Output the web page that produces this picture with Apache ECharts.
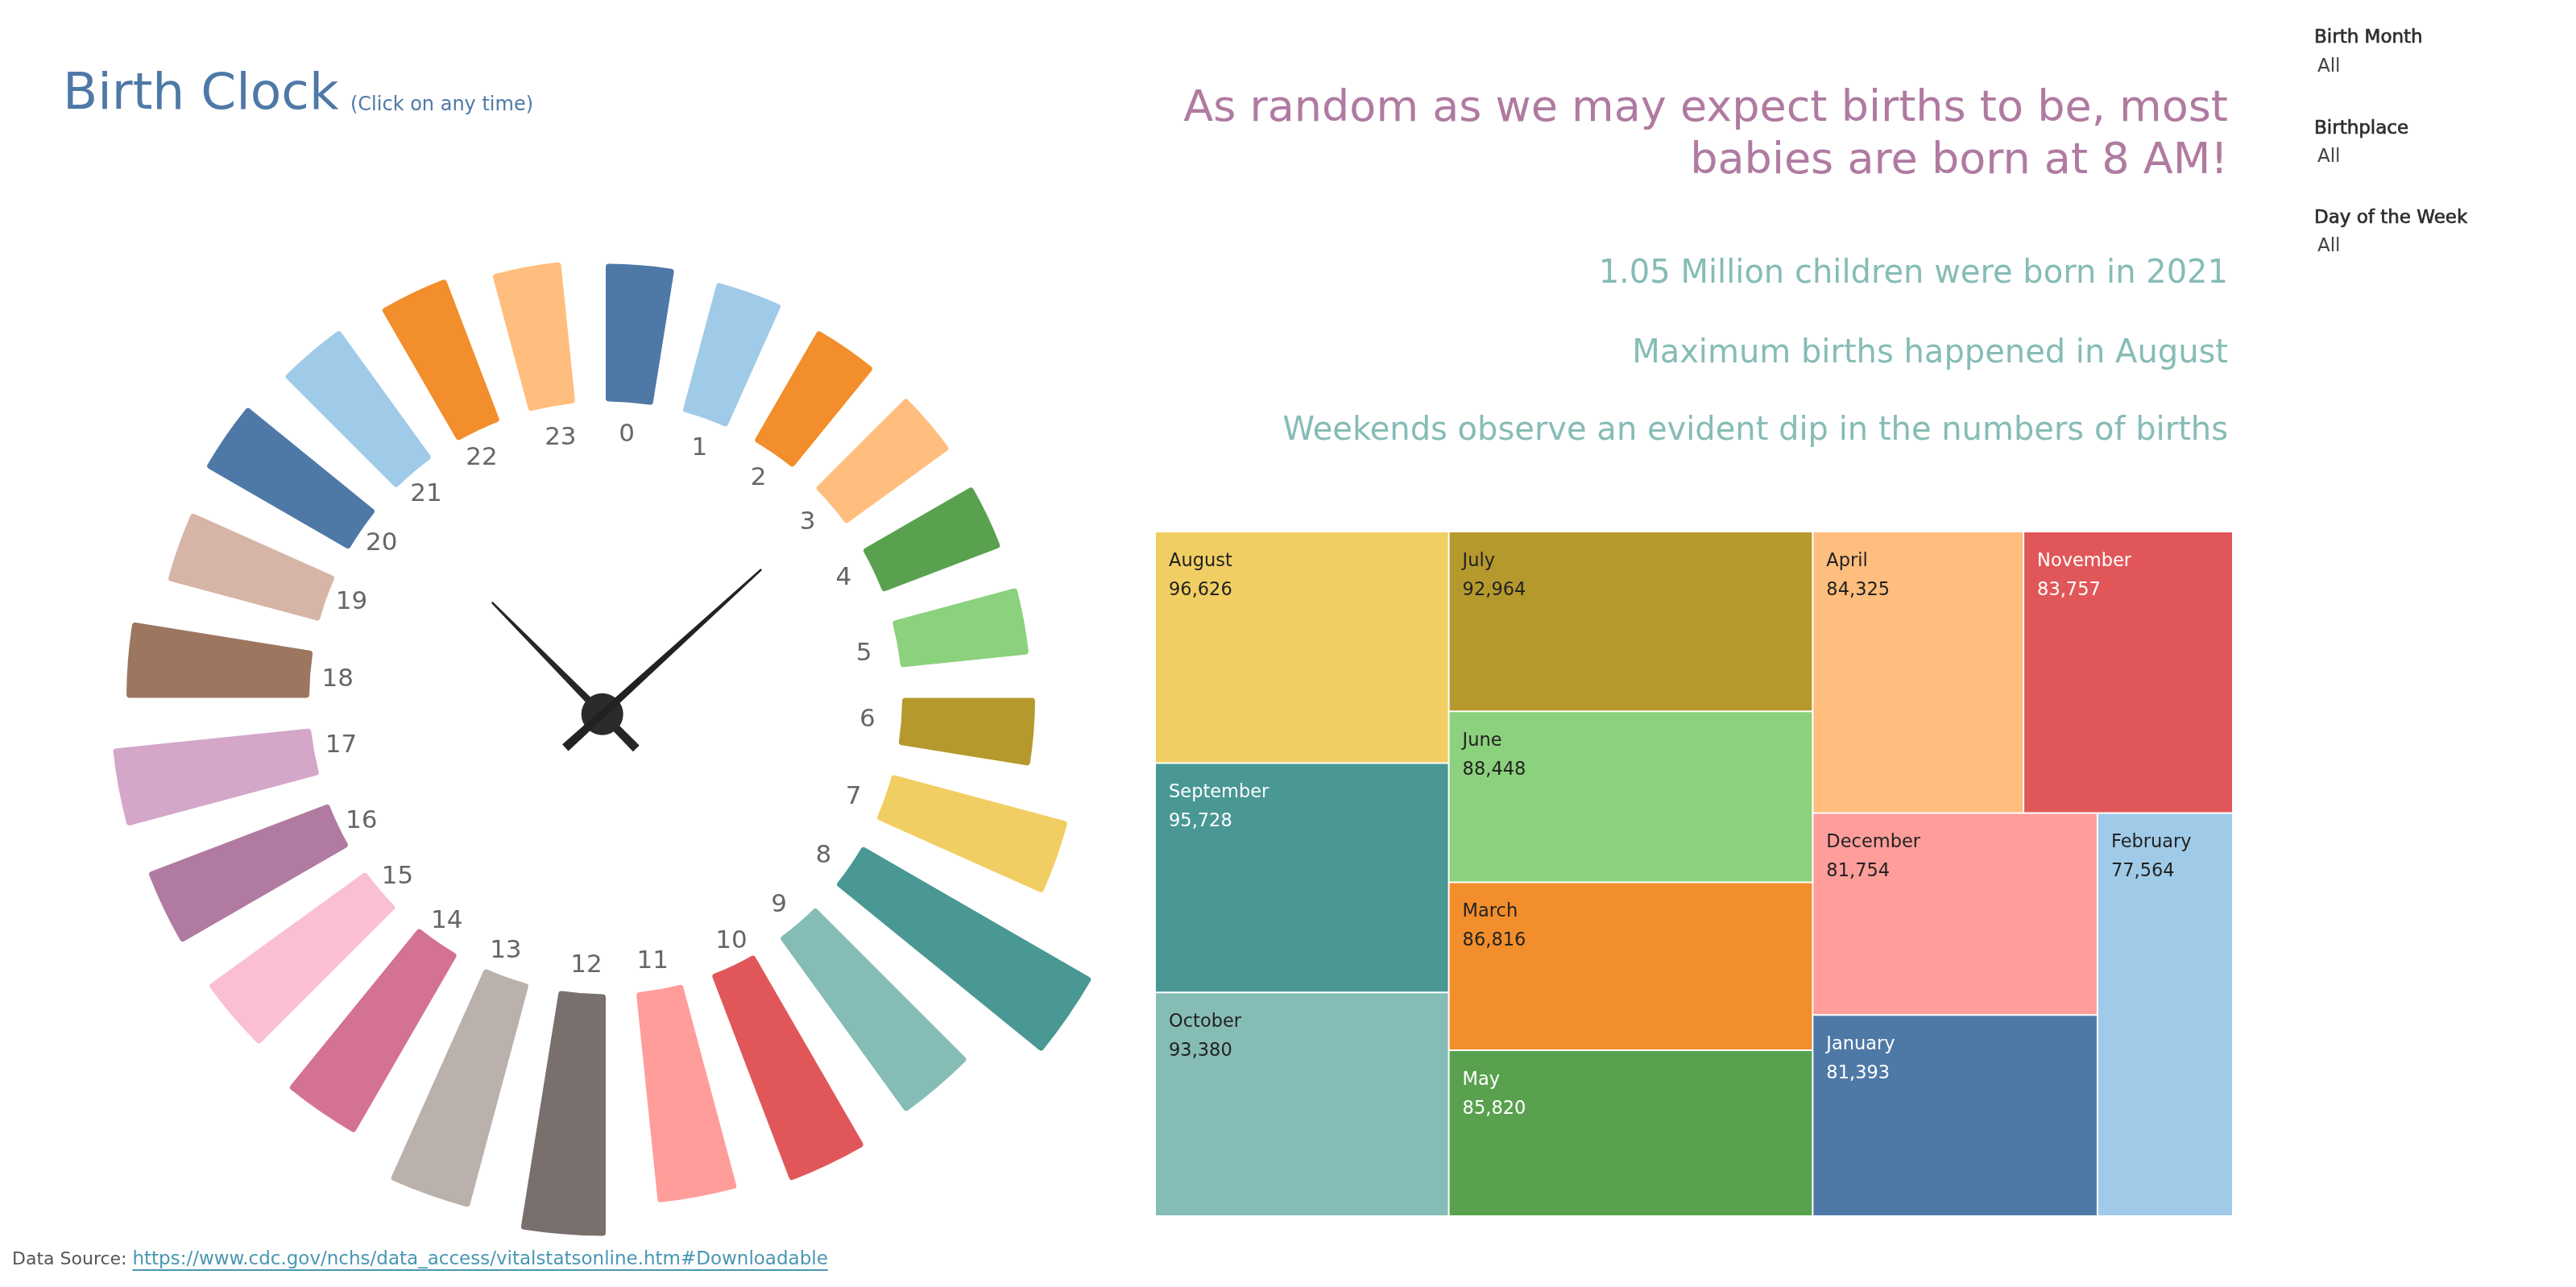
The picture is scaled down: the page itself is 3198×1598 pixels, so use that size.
<!DOCTYPE html>
<html>
<head>
<meta charset="utf-8">
<script src="https://cdn.jsdelivr.net/npm/echarts@6/dist/echarts.min.js"></script>
<style>
html,body{margin:0;padding:0;background:#ffffff;}
#chart{width:3198px;height:1598px;}
</style>
</head>
<body>
<div id="chart"></div>
<script>
// ---------------- data ----------------
const hours = ['0','1','2','3','4','5','6','7','8','9','10','11','12','13','14','15','16','17','18','19','20','21','22','23'];
const hourBirths = [34200, 33200, 31800, 31800, 31400, 32000, 33000, 45200, 65800, 53400, 54800, 52400,
                    60000, 57400, 51200, 48200, 48000, 49400, 45400, 39000, 41000, 39200, 37800, 35200];
const months = ['January','February','March','April','May','June','July','August','September','October','November','December'];
const monthBirths = [81393, 77564, 86816, 84325, 85820, 88448, 92964, 96626, 95728, 93380, 83757, 81754];

// ---------------- styles ----------------
const hourColors = ['#4e79a7','#a0cbe8','#f28e2b','#ffbe7d','#59a14f','#8cd17d','#b6992d','#f1ce63',
                    '#499894','#86bcb6','#e15759','#ff9d9a','#79706e','#bab0ac','#d37295','#fabfd2',
                    '#b07aa1','#d4a6c8','#9d7660','#d7b5a6','#4e79a7','#a0cbe8','#f28e2b','#ffbe7d'];
const monthColors = ['#4e79a7','#a0cbe8','#f28e2b','#ffbe7d','#59a14f','#8cd17d','#b6992d','#f1ce63',
                     '#499894','#86bcb6','#e15759','#ff9d9a'];
const whiteLabelMonths = ['January','May','September','November'];

const FONT = '"DejaVu Sans", "Liberation Sans", sans-serif';
const clockCenter = [752, 866.5];
const labelCenter = [753, 869];
const hub = {x: 747.7, y: 886.7, r: 26};

function handPoints(deg, len, tail, wBase, wTip, wTail) {
  const a = deg * Math.PI / 180;
  const dx = Math.sin(a), dy = -Math.cos(a), nx = Math.cos(a), ny = Math.sin(a);
  const P = (s, w) => [hub.x + s * dx + w * nx, hub.y + s * dy + w * ny];
  return [P(len, wTip / 2), P(0, wBase / 2), P(-tail, wTail / 2),
          P(-tail, -wTail / 2), P(0, -wBase / 2), P(len, -wTip / 2)];
}

function txt(text, x, baseline, size, color, align, strokeW) {
  const style = {
    text: text, fill: color,
    font: size + 'px ' + FONT,
    align: align || 'left', verticalAlign: 'middle',
    textAlign: align || 'left', textVerticalAlign: 'middle'
  };
  if (strokeW) { style.stroke = color; style.lineWidth = strokeW; }
  return {type: 'text', x: x, y: baseline - 0.3 * size, z: 20, style: style};
}

const mctx = document.createElement('canvas').getContext('2d');
function measure(text, size) { mctx.font = size + 'px ' + FONT; return mctx.measureText(text).width; }

const srcLabel = 'Data Source: ';
const srcLink = 'https://www.cdc.gov/nchs/data_access/vitalstatsonline.htm#Downloadable';
const srcX = 15;
const linkX = srcX + measure(srcLabel, 22);
const linkW = measure(srcLink, 23);

const graphics = [
  txt('Birth Clock', 78, 138, 63, '#4e79a7'),
  txt('(Click on any time)', 435, 138, 24, '#4e79a7'),
  txt('As random as we may expect births to be, most', 2766, 152, 54, '#b07aa1', 'right'),
  txt('babies are born at 8 AM!', 2766, 217, 54, '#b07aa1', 'right'),
  txt('1.05 Million children were born in 2021', 2766, 353, 40, '#86bcb6', 'right'),
  txt('Maximum births happened in August', 2766, 452, 40, '#86bcb6', 'right'),
  txt('Weekends observe an evident dip in the numbers of births', 2766, 548, 40, '#86bcb6', 'right'),
  txt('Birth Month', 2873, 54, 23, '#2e2e2e', 'left', 0.7),
  txt('All', 2877, 90, 23, '#444444'),
  txt('Birthplace', 2873, 167, 23, '#2e2e2e', 'left', 0.7),
  txt('All', 2877, 202, 23, '#444444'),
  txt('Day of the Week', 2873, 278, 23, '#2e2e2e', 'left', 0.7),
  txt('All', 2877, 313, 23, '#444444'),
  txt(srcLabel, srcX, 1571, 22, '#555555'),
  txt(srcLink, linkX, 1571, 23, '#4996b2'),
  {type: 'line', z: 20, shape: {x1: linkX, y1: 1577, x2: linkX + linkW, y2: 1577},
   style: {stroke: '#4996b2', lineWidth: 2}},
  {type: 'polygon', z: 30, shape: {points: handPoints(-44.6, 195, 60, 9.5, 2.5, 11)}, style: {fill: '#262626'}},
  {type: 'circle', z: 31, shape: {cx: hub.x, cy: hub.y, r: hub.r}, style: {fill: '#2b2b2b'}},
  {type: 'polygon', z: 32, shape: {points: handPoints(47.7, 267, 62, 9.5, 2.5, 11)}, style: {fill: '#222222'}}
];

const chart = echarts.init(document.getElementById('chart'), null, {renderer: 'canvas'});
chart.setOption({
  animation: false,
  backgroundColor: '#ffffff',
  textStyle: {fontFamily: FONT},
  polar: [
    {center: clockCenter, radius: [368, 698]},
    {center: labelCenter, radius: [0, 307]}
  ],
  angleAxis: [
    {polarIndex: 0, type: 'category', data: hours, startAngle: 92.95, clockwise: true,
     axisLine: {show: false}, axisTick: {show: false}, axisLabel: {show: false},
     splitLine: {show: false}, splitArea: {show: false}},
    {polarIndex: 1, type: 'category', data: hours, startAngle: 92.95, clockwise: true,
     axisLine: {show: false}, axisTick: {show: false},
     axisLabel: {show: true, interval: 0, margin: 8, fontSize: 31, color: '#666666', fontFamily: FONT},
     splitLine: {show: false}, splitArea: {show: false}}
  ],
  radiusAxis: [
    {polarIndex: 0, type: 'value', min: 0, max: 66000, show: false,
     axisLine: {show: false}, axisTick: {show: false}, axisLabel: {show: false},
     splitLine: {show: false}, splitArea: {show: false}},
    {polarIndex: 1, type: 'value', min: 0, max: 1, show: false,
     axisLine: {show: false}, axisTick: {show: false}, axisLabel: {show: false},
     splitLine: {show: false}, splitArea: {show: false}}
  ],
  series: [
    {
      type: 'bar', coordinateSystem: 'polar', polarIndex: 0,
      barWidth: '60.7%',
      itemStyle: {borderRadius: 4},
      data: hourBirths.map((v, i) => ({value: v, itemStyle: {color: hourColors[i]}}))
    },
    {
      type: 'treemap',
      left: 1435, top: 661, width: 1336, height: 848,
      roam: false, nodeClick: false,
      breadcrumb: {show: false},
      sort: 'desc',
      visibleMin: 0,
      levels: [{itemStyle: {gapWidth: 2, borderWidth: 0, borderColor: '#ffffff'}}],
      itemStyle: {borderWidth: 0},
      label: {
        show: true, position: 'insideTopLeft', distance: 0,
        padding: [18, 0, 0, 16],
        fontFamily: FONT, fontSize: 22.5, lineHeight: 36,
        formatter: p => p.name + '\n' + Number(p.value).toLocaleString('en-US')
      },
      upperLabel: {show: false},
      data: months.map((m, i) => ({
        name: m, value: monthBirths[i],
        itemStyle: {color: monthColors[i]},
        label: {color: whiteLabelMonths.indexOf(m) >= 0 ? '#ffffff' : '#222222'}
      }))
    }
  ],
  graphic: graphics
});
</script>
</body>
</html>
